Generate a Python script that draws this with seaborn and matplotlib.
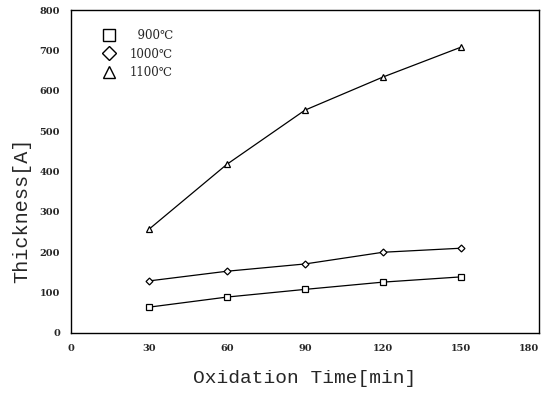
import matplotlib
matplotlib.use("Agg")
import matplotlib.pyplot as plt
import seaborn as sns
import pandas as pd
from matplotlib.lines import Line2D

time_min = [30, 60, 90, 120, 150]
t900 = [64, 89, 108, 126, 139]
t1000 = [129, 153, 171, 200, 210]
t1100 = [257, 418, 552, 634, 708]
series_labels = ["900\u2103", "1000\u2103", "1100\u2103"]
x_ticks = [0, 30, 60, 90, 120, 150, 180]
y_ticks = [0, 100, 200, 300, 400, 500, 600, 700, 800]

df = pd.concat([
    pd.DataFrame({"time": time_min, "thick": t900, "series": series_labels[0]}),
    pd.DataFrame({"time": time_min, "thick": t1000, "series": series_labels[1]}),
    pd.DataFrame({"time": time_min, "thick": t1100, "series": series_labels[2]}),
])

sns.set_style("white")
plt.rcParams['font.family'] = ['DejaVu Sans']

fig = plt.figure(figsize=(5.43, 3.94), dpi=100)
ax = fig.add_axes([71/543, 1 - 333/394, (539-71)/543, (333-10)/394])

markers = {series_labels[0]: "s", series_labels[1]: "D", series_labels[2]: "^"}
sizes = {series_labels[0]: 4.5, series_labels[1]: 3.5, series_labels[2]: 4.5}
for lab in series_labels:
    sub = df[df.series == lab]
    sns.lineplot(data=sub, x="time", y="thick", ax=ax, color="black", lw=0.9,
                 marker=markers[lab], markersize=sizes[lab], markerfacecolor="white",
                 markeredgecolor="black", markeredgewidth=0.9, legend=False)

ax.set_xlim(0, 180)
ax.set_ylim(0, 800)
ax.set_xticks(x_ticks)
ax.set_yticks(y_ticks)
ax.set_xticklabels([str(v) for v in x_ticks], fontsize=7, fontweight="bold", family="DejaVu Serif")
ax.set_yticklabels([str(v) for v in y_ticks], fontsize=7, fontweight="bold", family="DejaVu Serif")
ax.get_xticklabels()[-1].set_horizontalalignment("right")
ax.tick_params(axis="both", direction="out", length=4, width=0.8, color="black", pad=4)
ax.tick_params(top=False, right=False)
for s in ax.spines.values():
    s.set_color("black")
    s.set_linewidth(1.0)

ax.set_xlabel("Oxidation Time[min]", fontsize=14, family="Liberation Mono")
ax.xaxis.set_label_coords(0.5, -0.115)
ax.set_ylabel("Thickness[A]", fontsize=14.5, family="Liberation Mono")
ax.yaxis.set_label_coords(-0.085, 0.38)

handles = [Line2D([], [], ls="none", marker=markers[l], markersize=8.5 if l != series_labels[1] else 7,
                  markerfacecolor="white", markeredgecolor="black", markeredgewidth=1.0)
           for l in series_labels]
leg = ax.legend(handles, ["  900\u2103", "1000\u2103", "1100\u2103"], loc="upper left",
                bbox_to_anchor=(0.045, 0.955), frameon=False,
                prop={"family": "DejaVu Serif", "size": 8.5}, handletextpad=0.8, labelspacing=0.45,
                borderaxespad=0)

fig.savefig("out.png", dpi=100, facecolor="white")
